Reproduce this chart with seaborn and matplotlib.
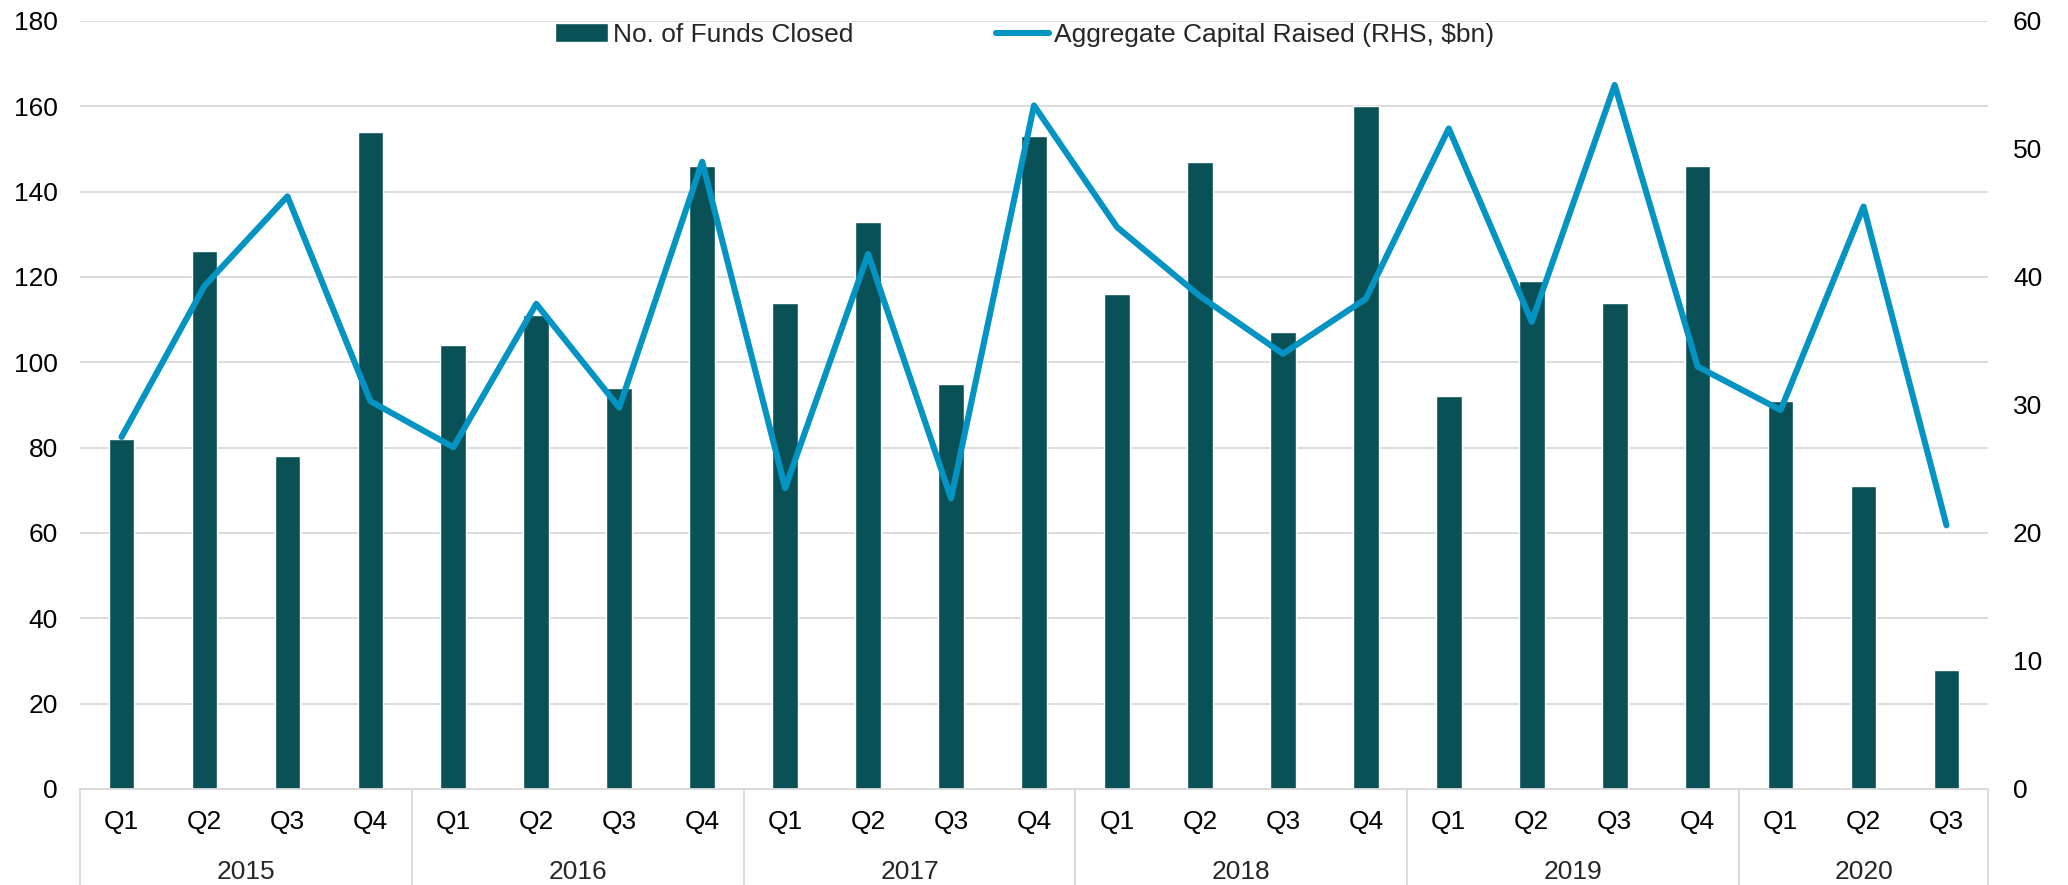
import pandas as pd
import matplotlib
matplotlib.use("Agg")
import matplotlib.pyplot as plt
import matplotlib.transforms as mtransforms
import seaborn as sns

# Data
years = ['2015', '2016', '2017', '2018', '2019', '2020']
quarters_per_year = [4, 4, 4, 4, 4, 3]
quarter_labels = ['Q1', 'Q2', 'Q3', 'Q4'] * 5 + ['Q1', 'Q2', 'Q3']
funds_closed = [82, 126, 78, 154, 104, 111, 94, 146, 114, 133, 95, 153,
                116, 147, 107, 160, 92, 119, 114, 146, 91, 71, 28]
capital_raised = [27.5, 39.3, 46.3, 30.3, 26.7, 37.9, 29.8, 49.0, 23.5, 41.8, 22.7, 53.4,
                  43.9, 38.5, 34.0, 38.3, 51.6, 36.5, 55.0, 33.0, 29.6, 45.5, 20.6]

bar_color = '#0A5157'
line_color = '#0394C4'
grid_color = '#D9D9D9'
fs = 19

sns.set_theme(style='white')
plt.rcParams['font.family'] = ['Liberation Sans', 'DejaVu Sans']

df = pd.DataFrame({
    'pos': range(len(funds_closed)),
    'quarter': quarter_labels,
    'funds': funds_closed,
    'capital': capital_raised,
})

fig = plt.figure(figsize=(20.68, 8.85), dpi=100)
ax = fig.add_axes([0.0387, 0.1085, 0.9226, 0.8678])

sns.barplot(data=df, x='pos', y='funds', color=bar_color, width=0.31,
            saturation=1, ax=ax, label='No. of Funds Closed', zorder=2)
ax.set_xlim(-0.5, len(df) - 0.5)
ax.set_ylim(0, 180)
ax.set_yticks(range(0, 181, 20))
ax.yaxis.grid(True, color=grid_color, lw=1.3, zorder=0)
ax.set_axisbelow(True)
ax.set_xlabel('')
ax.set_ylabel('')
ax.set_xticks(range(len(df)))
ax.set_xticklabels(quarter_labels)
ax.tick_params(axis='x', length=0, pad=15, labelsize=fs, colors='black')
ax.tick_params(axis='y', length=0, pad=16, labelsize=fs, colors='black')
for s in ['top', 'right', 'left']:
    ax.spines[s].set_visible(False)
ax.spines['bottom'].set_color(grid_color)
ax.spines['bottom'].set_linewidth(1.3)

ax2 = ax.twinx()
sns.lineplot(data=df, x='pos', y='capital', color=line_color, lw=4.4,
             ax=ax2, label='Aggregate Capital Raised (RHS, $bn)', zorder=3)
ax2.set_ylim(0, 60)
ax2.set_yticks(range(0, 61, 10))
ax2.set_ylabel('')
ax2.tick_params(axis='y', length=0, pad=18, labelsize=fs, colors='black')
for s in ax2.spines.values():
    s.set_visible(False)
ax2.grid(False)

# year groups under the quarter labels
trans = mtransforms.blended_transform_factory(ax.transData, ax.transAxes)
bounds = [-0.5]
for n in quarters_per_year:
    bounds.append(bounds[-1] + n)
for i, yr in enumerate(years):
    mid = (bounds[i] + bounds[i + 1]) / 2
    ax.text(mid, -0.108, yr, transform=trans, ha='center', va='center', fontsize=fs)
for b in bounds:
    ax.plot([b, b], [0, -0.13], transform=trans, color=grid_color, lw=1.3, clip_on=False)

# combined legend across the top
h1, l1 = ax.get_legend_handles_labels()
h2, l2 = ax2.get_legend_handles_labels()
if ax2.get_legend():
    ax2.get_legend().remove()
ax.legend(h1 + h2, l1 + l2, loc='center', bbox_to_anchor=(0.495, 0.982), ncol=2,
          frameon=False, fontsize=fs, handlelength=2.0, handletextpad=0.2,
          columnspacing=5.4, borderpad=0, borderaxespad=0)

fig.savefig('out.png', dpi=100)
